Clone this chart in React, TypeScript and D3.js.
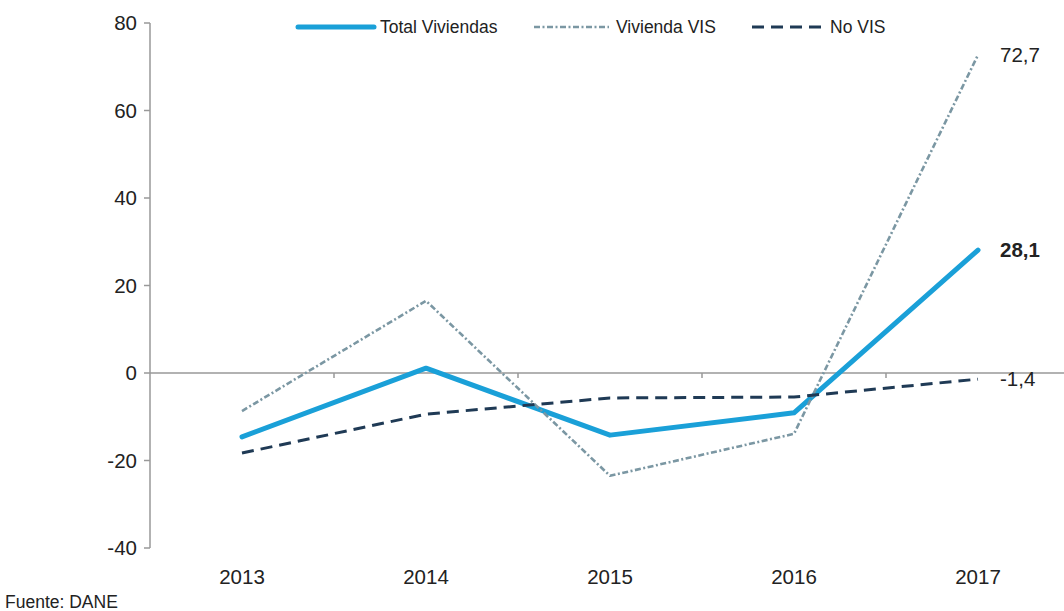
import React from 'react';
import * as d3 from 'd3';

// values (variación anual, %)
const years = ['2013', '2014', '2015', '2016', '2017'];
const totalViviendas = [-14.6, 1.1, -14.2, -9.1, 28.1];
const viviendaVIS = [-8.7, 16.5, -23.5, -13.9, 72.7];
const noVIS = [-18.3, -9.4, -5.7, -5.5, -1.4];
const yTicks = [-40, -20, 0, 20, 40, 60, 80];
const endLabels = ['28,1', '72,7', '-1,4'];

const W = 1064;
const H = 611;
const FONT = 'Liberation Sans, Arial, sans-serif';

export default function App() {
  const x = d3.scalePoint<string>().domain(years).range([150, 1070]).padding(0.5);
  const y = d3.scaleLinear().domain([-40, 80]).range([548, 23]);
  const step = x.step();

  const line = d3.line<number>()
    .x((d, i) => x(years[i]) as number)
    .y((d) => y(d));

  const series = [
    { name: 'Total Viviendas', values: totalViviendas, color: '#1aa0d8', width: 5, dash: null, label: endLabels[0], bold: true },
    { name: 'Vivienda VIS', values: viviendaVIS, color: '#7b97a3', width: 2.6, dash: '6 2.5 2 2.5', label: endLabels[1], bold: false },
    { name: 'No VIS', values: noVIS, color: '#1f3a55', width: 3, dash: '12 7', label: endLabels[2], bold: false },
  ];

  // legend layout
  const legend = [
    { x1: 298, x2: 374, tx: 380 },
    { x1: 534, x2: 609, tx: 616 },
    { x1: 752, x2: 825, tx: 830 },
  ];

  const last = years.length - 1;

  return (
    <svg width={W} height={H} style={{ position: 'absolute', left: 0, top: 0, background: '#fff' }}>
      <rect width={W} height={H} fill="#fff" />

      {/* y axis */}
      <line x1={150} x2={150} y1={y(80)} y2={y(-40)} stroke="#999" strokeWidth={1.5} />
      {yTicks.map((t) => (
        <g key={t}>
          <line x1={144} x2={150} y1={y(t)} y2={y(t)} stroke="#999" strokeWidth={1.5} />
          <text x={137} y={y(t)} dy="0.35em" textAnchor="end" fontFamily={FONT} fontSize={20.5} fill="#222">
            {t}
          </text>
        </g>
      ))}

      {/* x axis on zero line */}
      <line x1={150} x2={W} y1={y(0)} y2={y(0)} stroke="#999" strokeWidth={1.5} />
      {years.map((yr) => (
        <g key={yr}>
          <line x1={(x(yr) as number) + step / 2} x2={(x(yr) as number) + step / 2} y1={y(0)} y2={y(0) + 5} stroke="#999" strokeWidth={1.5} />
          <text x={x(yr)} y={584} textAnchor="middle" fontFamily={FONT} fontSize={20.5} fill="#222">
            {yr}
          </text>
        </g>
      ))}

      {/* lines */}
      {series.map((s) => (
        <path
          key={s.name}
          d={line(s.values) as string}
          fill="none"
          stroke={s.color}
          strokeWidth={s.width}
          strokeDasharray={s.dash || undefined}
          strokeLinejoin="round"
          strokeLinecap={s.dash ? 'butt' : 'round'}
        />
      ))}

      {/* end labels */}
      {series.map((s) => (
        <text
          key={s.name + '-lbl'}
          x={(x(years[last]) as number) + 22}
          y={y(s.values[last])}
          dy="0.35em"
          fontFamily={FONT}
          fontSize={20.5}
          fontWeight={s.bold ? 'bold' : 'normal'}
          fill="#222"
        >
          {s.label}
        </text>
      ))}

      {/* legend */}
      {series.map((s, i) => (
        <g key={s.name + '-leg'}>
          <line
            x1={legend[i].x1}
            x2={legend[i].x2}
            y1={27}
            y2={27}
            stroke={s.color}
            strokeWidth={s.width}
            strokeDasharray={s.dash || undefined}
            strokeLinecap={s.dash ? 'butt' : 'round'}
          />
          <text x={legend[i].tx} y={27} dy="0.35em" fontFamily={FONT} fontSize={17.5} fill="#222">
            {s.name}
          </text>
        </g>
      ))}

      <text x={5} y={608} fontFamily={FONT} fontSize={17.5} fill="#222">
        Fuente: DANE
      </text>
    </svg>
  );
}
